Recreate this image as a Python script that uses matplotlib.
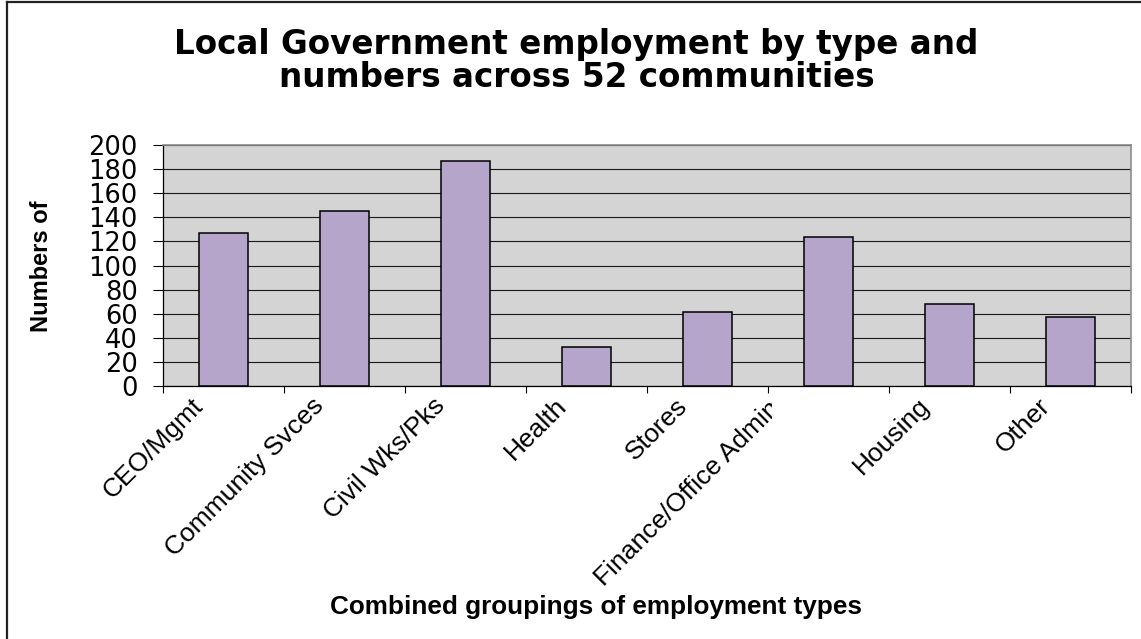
import matplotlib
matplotlib.use("Agg")
import matplotlib.pyplot as plt
import matplotlib.transforms as mtransforms
from matplotlib.lines import Line2D
import numpy as np

# Employment counts by combined grouping
categories = ["CEO/Mgmt", "Community Svces", "Civil Wks/Pks", "Health",
              "Stores", "Finance/Office Admin", "Housing", "Other"]
counts = [127, 145, 187, 32, 61, 124, 68, 57]
y_ticks = [0, 20, 40, 60, 80, 100, 120, 140, 160, 180, 200]

title = "Local Government employment by type and\nnumbers across 52 communities"
x_title = "Combined groupings of employment types"
y_title = "Numbers of"

W, H, DPI = 1141, 639, 100
fig = plt.figure(figsize=(W / DPI, H / DPI), dpi=DPI, facecolor="white")

# plot area in pixel terms
left_px, right_px, top_px, bottom_px = 163, 1131, 145, 386
ax = fig.add_axes([left_px / W, 1 - bottom_px / H,
                   (right_px - left_px) / W, (bottom_px - top_px) / H])
ax.set_facecolor("#D4D4D4")

x = np.arange(len(categories))
ax.bar(x, counts, width=0.4, color="#B6A5CB", edgecolor="black",
       linewidth=1.1, zorder=3)

ax.set_xlim(-0.5, len(categories) - 0.5)
ax.set_ylim(0, 200)
ax.set_yticks(y_ticks)
ax.set_yticklabels([str(v) for v in y_ticks], fontfamily="DejaVu Sans",
                   fontsize=18.5)
ax.yaxis.grid(True, color="#1a1a1a", linewidth=0.8, zorder=1)
ax.set_axisbelow(True)
ax.tick_params(axis="y", length=7.2, width=0.8, pad=11, color="black")

# category-boundary ticks on x
ax.set_xticks(np.arange(-0.5, len(categories), 1.0))
ax.set_xticklabels([])
ax.tick_params(axis="x", length=5, width=0.8, color="black")

for side in ("top", "right"):
    ax.spines[side].set_color("#8c8c8c")
    ax.spines[side].set_linewidth(1.2)
for side in ("left", "bottom"):
    ax.spines[side].set_color("black")
    ax.spines[side].set_linewidth(0.9)

# rotated category labels hanging below the axis; the longest one is
# pulled left and cut off at its end, as the chart tool truncates it
for xi, name in zip(x, categories):
    long_label = len(name) > 16
    dx = -52 if long_label else -24
    dy = -19 if long_label else -16
    offset = mtransforms.ScaledTranslation(dx / DPI, dy / DPI, fig.dpi_scale_trans)
    t = ax.text(xi, 0, name, transform=ax.transData + offset,
                rotation=45, rotation_mode="anchor", ha="right", va="center",
                fontfamily="Liberation Sans", fontsize=19, clip_on=long_label)
    if long_label:
        t.set_clip_box(mtransforms.Bbox.from_extents(0, 0, 772, H))

fig.text(576.5 / W, 1 - 61 / H, title, ha="center", va="center",
         fontfamily="DejaVu Sans", fontweight="bold", fontsize=23.5,
         linespacing=1.02)
fig.text(596 / W, 1 - 607 / H, x_title, ha="center", va="center",
         fontfamily="Liberation Sans", fontweight="bold", fontsize=18.8)
fig.text(42 / W, 1 - 266 / H, y_title, ha="center", va="center", rotation=90,
         fontfamily="Liberation Sans", fontweight="bold", fontsize=17)

# chart frame along the top and left edges
fig.add_artist(Line2D([6.5 / W, 6.5 / W], [0, 1 - 1.5 / H], transform=fig.transFigure,
                      color="#222222", linewidth=1.6))
fig.add_artist(Line2D([6.5 / W, 1], [1 - 1.5 / H, 1 - 1.5 / H], transform=fig.transFigure,
                      color="#222222", linewidth=1.6))

fig.savefig("out.png", dpi=DPI, facecolor="white")
